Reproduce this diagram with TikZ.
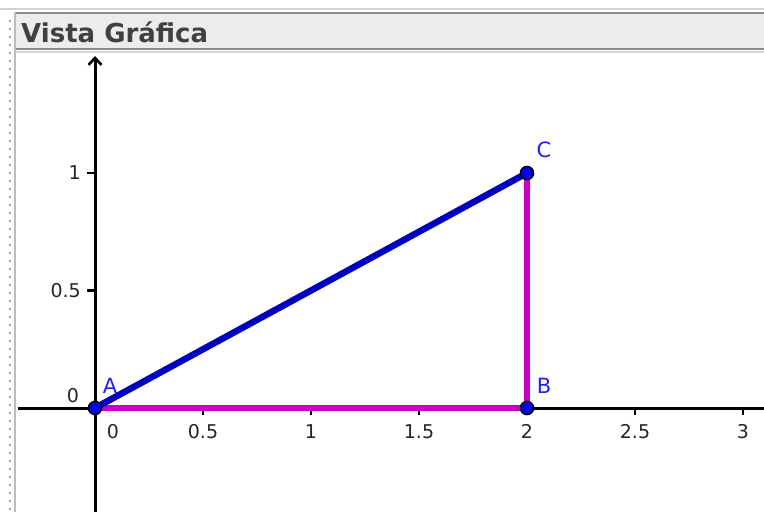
\documentclass[tikz,border=0pt]{standalone}
\usepackage{fontspec}
\setmainfont{DejaVu Sans}
\usetikzlibrary{arrows.meta}
\definecolor{segblue}{RGB}{0,0,190}
\definecolor{segmag}{RGB}{200,0,200}
\definecolor{ptblue}{RGB}{0,0,255}
\definecolor{lblblue}{RGB}{30,30,255}
\definecolor{barfill}{RGB}{236,236,236}
\definecolor{bardark}{RGB}{140,140,140}
\definecolor{barlight}{RGB}{210,210,210}
\definecolor{titlecol}{RGB}{64,64,64}
\definecolor{sidebar}{RGB}{180,188,200}
\tikzset{
  axis/.style={line width=3pt, black},
  tick/.style={line width=2.2pt, black},
  seg/.style={line width=6.5pt},
  pt/.style={circle, fill=ptblue, draw=black, line width=1.6pt, minimum size=13pt, inner sep=0pt},
  ticklbl/.style={font=\fontsize{19}{19}\selectfont, text=black!85, inner sep=0pt},
  ptlbl/.style={font=\fontsize{21}{21}\selectfont, text=lblblue, inner sep=0pt},
}
\begin{document}
\begin{tikzpicture}[x=1pt,y=-1pt]
\useasboundingbox (0,0) rectangle (764,512);
\fill[white] (0,0) rectangle (764,512);
% title bar
\fill[barfill] (15,13) rectangle (764,49);
\draw[barlight, line width=2pt] (0,9) -- (764,9);
\draw[bardark, line width=2pt] (15,13) -- (764,13);
\draw[bardark, line width=2pt] (15,49) -- (764,49);
\draw[barlight, line width=2pt] (15,51.5) -- (764,51.5);
\node[anchor=base west, inner sep=0pt, text=titlecol, font=\fontsize{26}{26}\selectfont\bfseries] (title) at (21,42) {Vista Gráfica};
% left border
\draw[sidebar, line width=2pt] (15,13) -- (15,512);
\foreach \yy in {20,28,...,512} \fill[gray!70] (8.5,\yy) rectangle (10.5,\yy+2);
% axes
\coordinate (xl) at (18,408);
\coordinate (xr) at (764,408);
\coordinate (yb) at (95,512);
\coordinate (yt) at (95,56);
\draw[axis] (xl) -- (xr);
\draw[axis, -{Straight Barb[length=7pt,width=13pt,line width=2.6pt]}] (yb) -- (yt);
% x ticks
\foreach \u/\lab in {0.5/0.5,1/1,1.5/1.5,2/2,2.5/2.5,3/3} {
  \draw[tick] (95+216*\u,408) -- (95+216*\u,415);
  \node[ticklbl, anchor=north] at (95+216*\u,424) {\lab};
}
\node[ticklbl, anchor=north] at (113,424) {0};
% y ticks
\foreach \u/\lab in {0.5/0.5,1/1} {
  \draw[tick] (95,408-235*\u) -- (87,408-235*\u);
  \node[ticklbl, anchor=east] at (81,408-235*\u) {\lab};
}
\node[ticklbl] at (73,396) {0};
% points
\coordinate (Ac) at (95,408);
\coordinate (Bc) at (527,408);
\coordinate (Cc) at (527,173);
\draw[seg, segmag] (Ac) -- (Bc) -- (Cc);
\draw[seg, segblue] (Ac) -- (Cc);
\node[pt] (A) at (Ac) {};
\node[pt] (B) at (Bc) {};
\node[pt] (C) at (Cc) {};
\node[ptlbl] at (110,386) {A};
\node[ptlbl] at (544,386) {B};
\node[ptlbl] at (544,150) {C};
\end{tikzpicture}
\end{document}
